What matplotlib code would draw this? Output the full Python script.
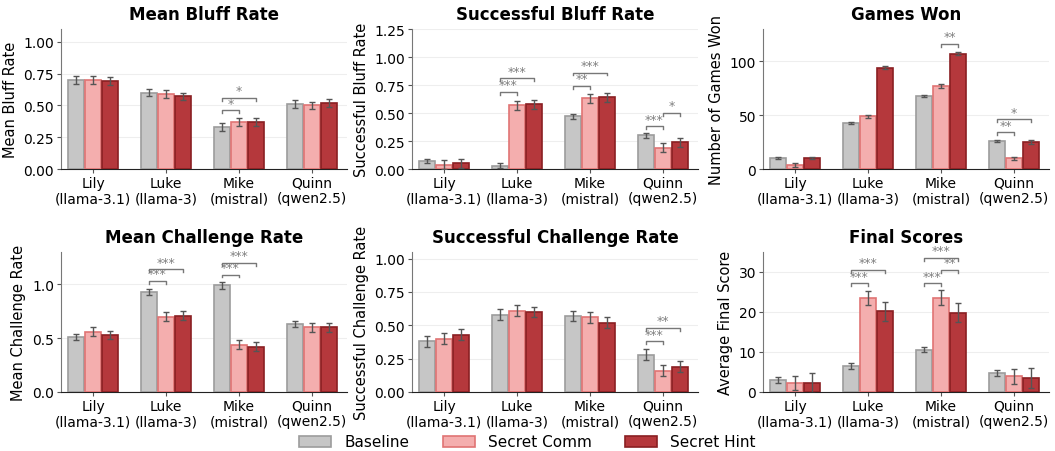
import matplotlib.pyplot as plt
import numpy as np

players = ["Lily\n(llama-3.1)", "Luke\n(llama-3)", "Mike\n(mistral)", "Quinn\n(qwen2.5)"]
conditions = ["Baseline", "Secret Comm", "Secret Hint"]

# values per condition: [Lily, Luke, Mike, Quinn]
bluff_rate = [[0.70, 0.60, 0.33, 0.51], [0.70, 0.59, 0.37, 0.50], [0.69, 0.57, 0.37, 0.52]]
bluff_rate_err = [[0.03, 0.03, 0.03, 0.03], [0.03, 0.03, 0.03, 0.03], [0.03, 0.03, 0.03, 0.03]]

succ_bluff = [[0.07, 0.03, 0.47, 0.30], [0.04, 0.57, 0.63, 0.19], [0.05, 0.58, 0.64, 0.24]]
succ_bluff_err = [[0.02, 0.02, 0.02, 0.02], [0.04, 0.04, 0.04, 0.04], [0.04, 0.04, 0.04, 0.04]]

games_won = [[10, 43, 68, 26], [4, 49, 77, 10], [10, 94, 107, 25]]
games_won_err = [[1.0, 1.0, 1.0, 1.0], [2.0, 1.5, 1.5, 1.5], [1.0, 1.5, 1.5, 1.5]]

challenge_rate = [[0.51, 0.93, 0.99, 0.63], [0.56, 0.70, 0.44, 0.60], [0.53, 0.71, 0.42, 0.60]]
challenge_rate_err = [[0.03, 0.03, 0.03, 0.03], [0.04, 0.04, 0.04, 0.04], [0.04, 0.04, 0.04, 0.04]]

succ_challenge = [[0.38, 0.58, 0.57, 0.28], [0.40, 0.61, 0.56, 0.16], [0.43, 0.60, 0.52, 0.19]]
succ_challenge_err = [[0.04, 0.04, 0.04, 0.04], [0.04, 0.04, 0.04, 0.04], [0.04, 0.04, 0.04, 0.04]]

final_scores = [[3.0, 6.5, 10.6, 4.8], [2.3, 23.5, 23.6, 3.9], [2.3, 20.2, 19.8, 3.6]]
final_scores_err = [[0.8, 0.8, 0.7, 0.8], [1.8, 1.8, 1.8, 1.8], [2.5, 2.4, 2.4, 2.5]]

# significance: (player index, cond a, cond b, bracket y, stars)
bluff_rate_sig = [(2, 0, 1, 0.46, "*"), (2, 0, 2, 0.56, "*")]
succ_bluff_sig = [(1, 0, 1, 0.69, "***"), (1, 0, 2, 0.81, "***"),
                  (2, 0, 1, 0.74, "**"), (2, 0, 2, 0.86, "***"),
                  (3, 0, 1, 0.38, "***"), (3, 1, 2, 0.50, "*")]
games_won_sig = [(2, 1, 2, 116, "**"), (3, 0, 1, 34, "**"), (3, 0, 2, 46, "*")]
challenge_rate_sig = [(1, 0, 1, 1.03, "***"), (1, 0, 2, 1.14, "***"),
                      (2, 0, 1, 1.09, "***"), (2, 0, 2, 1.20, "***")]
succ_challenge_sig = [(3, 0, 1, 0.38, "***"), (3, 0, 2, 0.48, "**")]
final_scores_sig = [(1, 0, 1, 27.2, "***"), (1, 0, 2, 30.5, "***"),
                    (2, 0, 1, 27.2, "***"), (2, 1, 2, 30.5, "**"), (2, 0, 2, 33.5, "***")]

face = ["#c6c6c6", "#f4aeae", "#b5383c"]
edge = ["#9c9c9c", "#e07474", "#8a1f22"]

panels = [
    ("Mean Bluff Rate", "Mean Bluff Rate", bluff_rate, bluff_rate_err, bluff_rate_sig,
     (0, 1.1), [0, 0.25, 0.5, 0.75, 1.0], "{:.2f}"),
    ("Successful Bluff Rate", "Successful Bluff Rate", succ_bluff, succ_bluff_err, succ_bluff_sig,
     (0, 1.25), [0, 0.25, 0.5, 0.75, 1.0, 1.25], "{:.2f}"),
    ("Games Won", "Number of Games Won", games_won, games_won_err, games_won_sig,
     (0, 130), [0, 50, 100], "{:.0f}"),
    ("Mean Challenge Rate", "Mean Challenge Rate", challenge_rate, challenge_rate_err, challenge_rate_sig,
     (0, 1.3), [0, 0.5, 1.0], "{:.1f}"),
    ("Successful Challenge Rate", "Successful Challenge Rate", succ_challenge, succ_challenge_err,
     succ_challenge_sig, (0, 1.05), [0, 0.25, 0.5, 0.75, 1.0], "{:.2f}"),
    ("Final Scores", "Average Final Score", final_scores, final_scores_err, final_scores_sig,
     (0, 35), [0, 10, 20, 30], "{:.0f}"),
]

fig = plt.figure(figsize=(10.55, 4.52), dpi=100)
W, H = 1055, 452
lefts = [61, 412, 763]
width = 286
rows = [(30, 170), (253, 393)]

x = np.arange(len(players))
bw = 0.22
offs = [-0.235, 0, 0.235]

handles = []
for i, (title, ylabel, vals, errs, sigs, ylim, yt, fmt) in enumerate(panels):
    r, c = divmod(i, 3)
    top, bot = rows[r]
    ax = fig.add_axes([lefts[c] / W, 1 - bot / H, width / W, (bot - top) / H])
    for k in range(3):
        b = ax.bar(x + offs[k], vals[k], bw, yerr=errs[k], color=face[k], edgecolor=edge[k],
                   linewidth=1.2, label=conditions[k], zorder=3,
                   error_kw=dict(ecolor="#555555", elinewidth=1, capsize=2, capthick=1))
        if i == 0:
            handles.append(b)
    span = ylim[1] - ylim[0]
    for p, a, bb, y, stars in sigs:
        x1 = x[p] + offs[a]
        x2 = x[p] + offs[bb]
        h = span * 0.02
        ax.plot([x1, x1, x2, x2], [y - h, y, y, y - h], color="#777777", lw=1, zorder=4)
        ax.text((x1 + x2) / 2, y + span * 0.005, stars, ha="center", va="bottom",
                color="#808080", fontsize=9)
    ax.set_xlim(-0.44, 3.48)
    ax.set_ylim(*ylim)
    ax.set_yticks(yt)
    ax.set_yticklabels([fmt.format(v) for v in yt], fontsize=10)
    ax.set_xticks(x)
    ax.set_xticklabels(players, fontsize=10, linespacing=1.1)
    ax.set_title(title, fontsize=12, fontweight="bold", pad=7)
    ax.set_ylabel(ylabel, fontsize=10.5, labelpad=4)
    ax.grid(axis="y", color="#eeeeee", lw=0.8, zorder=0)
    ax.spines["top"].set_visible(False)
    ax.spines["right"].set_visible(False)
    ax.spines["left"].set_color("#777777")
    ax.spines["bottom"].set_color("#222222")
    ax.tick_params(axis="both", length=3, color="#555555", pad=2)

fig.legend(handles, conditions, loc="center", bbox_to_anchor=(0.5, 1 - 443 / H), ncol=3,
           frameon=False, fontsize=11, columnspacing=2.2, handlelength=2.1, handletextpad=0.85)

fig.savefig("out.png", dpi=100)
